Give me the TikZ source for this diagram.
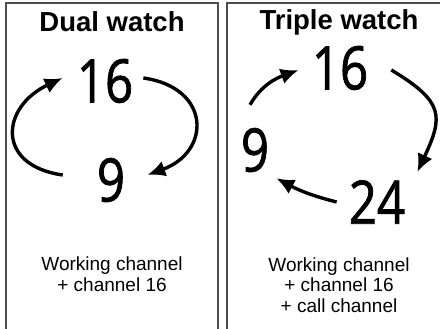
\documentclass[tikz,border=0pt]{standalone}
\usepackage{fontspec}
\setmainfont{Liberation Sans}
\newfontfamily\digitfont[FakeStretch=0.82, FakeBold=1.2]{Open Sans}
\usetikzlibrary{arrows.meta}

\begin{document}
\begin{tikzpicture}[x=1pt, y=1pt,
    panel/.style={draw=black!70, line width=1.3pt},
    title/.style={font=\bfseries\fontsize{27.5}{30}\selectfont},
    chan/.style={font=\digitfont\fontsize{60}{60}\selectfont, inner sep=0pt},
    note/.style={font=\fontsize{19}{20.5}\selectfont, align=center},
    watcharrow/.style={line width=3.4pt, -{Latex[length=18pt,width=16pt]}}]

    \useasboundingbox (0,0) rectangle (440,-329);
    \clip (0,0) rectangle (440,-329);
    \draw[panel] (6,-3) rectangle (218,-345);
    \draw[panel] (227,-3) rectangle (451,-345);

    \node[title] (dualtitle) at (112,-22) {Dual watch};
    \node[chan] (a16) at (105,-81) {16};
    \node[chan] (a9) at (111,-180) {9};
    \node[note] (dualnote) at (112,-274) {Working channel\\+ channel 16};

    \node[title] (tripletitle) at (339,-22) {Triple watch};
    \node[chan] (b16) at (340,-68) {16};
    \node[chan] (b9) at (255,-150) {9};
    \node[chan] (b24) at (377,-202) {24};
    \node[note] (triplenote) at (339,-285) {Working channel\\+ channel 16\\+ call channel};

    \draw[watcharrow] ([xshift=10pt,yshift=3pt]a16.east) to[out=-8, in=20, looseness=1.8] ([xshift=22pt,yshift=5pt]a9.east);
    \draw[watcharrow] ([xshift=-34pt,yshift=5pt]a9.west) to[out=172, in=205, looseness=1.8] ([xshift=-14pt,yshift=3pt]a16.west);

    \draw[watcharrow] ([xshift=-5pt,yshift=23pt]b9.north) to[out=60, in=200] ([xshift=-13pt,yshift=-2pt]b16.west);
    \draw[watcharrow] ([xshift=23pt,yshift=-2pt]b16.east) to[out=-31, in=65, looseness=1.5] ([xshift=12pt,yshift=8pt]b24.north east);
    \draw[watcharrow] ([xshift=-12pt]b24.west) to[out=166, in=-28] ([xshift=7pt,yshift=-6pt]b9.south east);

\end{tikzpicture}
\end{document}
